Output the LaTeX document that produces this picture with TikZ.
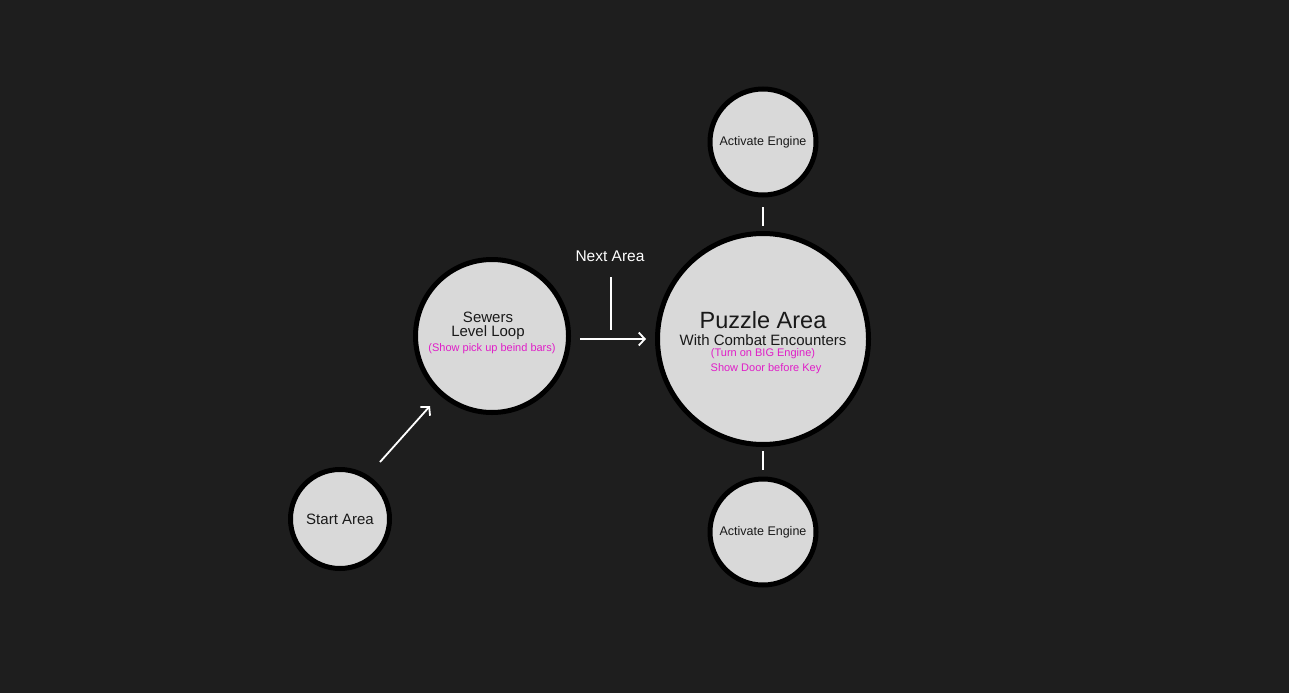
\documentclass[tikz,border=0pt]{standalone}
\usepackage{fontspec}
\setmainfont{Liberation Sans}
\usetikzlibrary{arrows.meta}
\definecolor{bg}{HTML}{1E1E1E}
\definecolor{fillg}{HTML}{D9D9D9}
\definecolor{mag}{HTML}{E01EC8}
\tikzset{
  circ/.style={circle, draw=black, line width=5pt, fill=fillg, inner sep=0pt, align=center, text=black!90},
  wl/.style={draw=white, line width=1.8pt},
  arr/.style={wl, -{Straight Barb[length=6pt,width=13pt,line width=1.8pt]}},
  dtxt/.style={text=black!90, inner sep=0pt},
  mtxt/.style={text=mag, inner sep=0pt},
}
\begin{document}
\begin{tikzpicture}[x=1pt,y=-1pt]
\fill[bg] (0,0) rectangle (1289,693);
\useasboundingbox (0,0) rectangle (1289,693);

\node[circ, minimum size=99pt] (start) at (340,519) {\fontsize{15}{18}\selectfont Start Area};
\node[circ, minimum size=153pt] (sewers) at (492,336) {};
\node[dtxt] (sewtxt1) at (488,317) {\fontsize{15}{18}\selectfont Sewers};
\node[dtxt] (sewtxt2) at (488,333) {\fontsize{15}{18}\selectfont Level Loop};
\node[mtxt] (sewnote) at (492,349) {\fontsize{11}{13}\selectfont (Show pick up beind bars)};

\node[circ, minimum size=211pt] (puzzle) at (763,339) {};
\node[dtxt] (ptitle) at (763,320) {\fontsize{23.5}{27}\selectfont Puzzle Area};
\node[dtxt] (psub) at (763,340) {\fontsize{15}{18}\selectfont With Combat Encounters};
\node[mtxt] (pnote1) at (763,354) {\fontsize{11}{13}\selectfont (Turn on BIG Engine)};
\node[mtxt] (pnote2) at (766,369) {\fontsize{11}{13}\selectfont Show Door before Key};

\node[circ, minimum size=106pt] (eng1) at (763,142) {\fontsize{12.5}{15}\selectfont Activate Engine};
\node[circ, minimum size=106pt] (eng2) at (763,532) {\fontsize{12.5}{15}\selectfont Activate Engine};

\node[text=white, inner sep=0pt] (next) at (610,256) {\fontsize{15.5}{18}\selectfont Next Area};

\coordinate (a1) at (380,462);
\coordinate (a2) at (430,406);
\draw[arr] (a1) -- (a2);
\coordinate (b1) at (580,339);
\coordinate (b2) at (646,339);
\draw[arr] (b1) -- (b2);
\coordinate (n1) at (611,277);
\coordinate (n2) at (611,330);
\draw[wl] (n1) -- (n2);
\coordinate (t1) at (763,207);
\coordinate (t2) at (763,226);
\draw[wl] (t1) -- (t2);
\coordinate (u1) at (763,451);
\coordinate (u2) at (763,470);
\draw[wl] (u1) -- (u2);
\end{tikzpicture}
\end{document}
